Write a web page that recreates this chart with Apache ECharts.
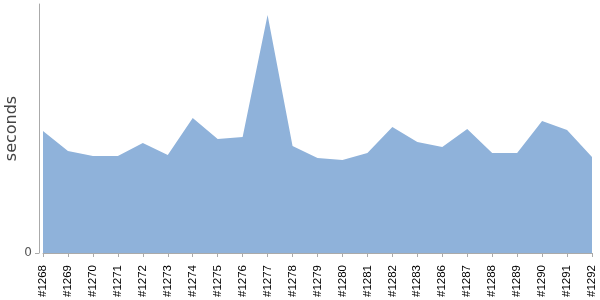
<!DOCTYPE html>
<html>
<head>
<meta charset="utf-8">
<script src="https://cdn.jsdelivr.net/npm/echarts@6/dist/echarts.min.js"></script>
<style>
  html, body { margin: 0; padding: 0; background: #fff; }
  #main { width: 600px; height: 300px; }
</style>
</head>
<body>
<div id="main"></div>
<script>
var builds = ['#1268', '#1269', '#1270', '#1271', '#1272', '#1273', '#1274', '#1275',
    '#1276', '#1277', '#1278', '#1279', '#1280', '#1281', '#1282', '#1283',
    '#1286', '#1287', '#1288', '#1289', '#1290', '#1291', '#1292'];
var seconds = [122, 102, 97, 97, 110, 98, 135, 114,
    116, 238, 107, 95, 93, 100, 126, 111,
    106, 124, 100, 100, 132, 123, 96];
var yTicks = [0];

var chart = echarts.init(document.getElementById('main'));

chart.setOption({
    animation: false,
    grid: { left: 43, right: 8, top: 4, bottom: 47, outerBoundsMode: 'none', containLabel: false },
    xAxis: {
        type: 'category',
        data: builds,
        boundaryGap: false,
        offset: 4,
        axisLine: { lineStyle: { color: '#aaa', width: 1 } },
        axisTick: { alignWithLabel: true, length: 4, lineStyle: { color: '#aaa' } },
        axisLabel: {
            rotate: 90,
            interval: 0,
            margin: 8,
            color: '#000',
            fontFamily: 'Liberation Sans',
            fontSize: 11.5
        }
    },
    yAxis: {
        type: 'value',
        min: 0,
        max: 249,
        offset: 4,
        name: 'seconds',
        nameLocation: 'middle',
        nameGap: 19,
        nameMoveOverlap: false,
        nameTextStyle: { color: '#444', fontFamily: 'DejaVu Sans', fontSize: 16 },
        splitLine: { show: false },
        axisLine: { show: true, lineStyle: { color: '#aaa', width: 1 } },
        axisTick: { show: true, length: 4, customValues: yTicks, lineStyle: { color: '#aaa' } },
        axisLabel: {
            customValues: yTicks,
            margin: 7,
            color: '#555',
            fontFamily: 'DejaVu Sans',
            fontSize: 12
        }
    },
    series: [{
        type: 'line',
        data: seconds,
        symbol: 'none',
        lineStyle: { width: 0 },
        areaStyle: { color: '#8fb2da', opacity: 1 }
    }]
});
</script>
</body>
</html>
